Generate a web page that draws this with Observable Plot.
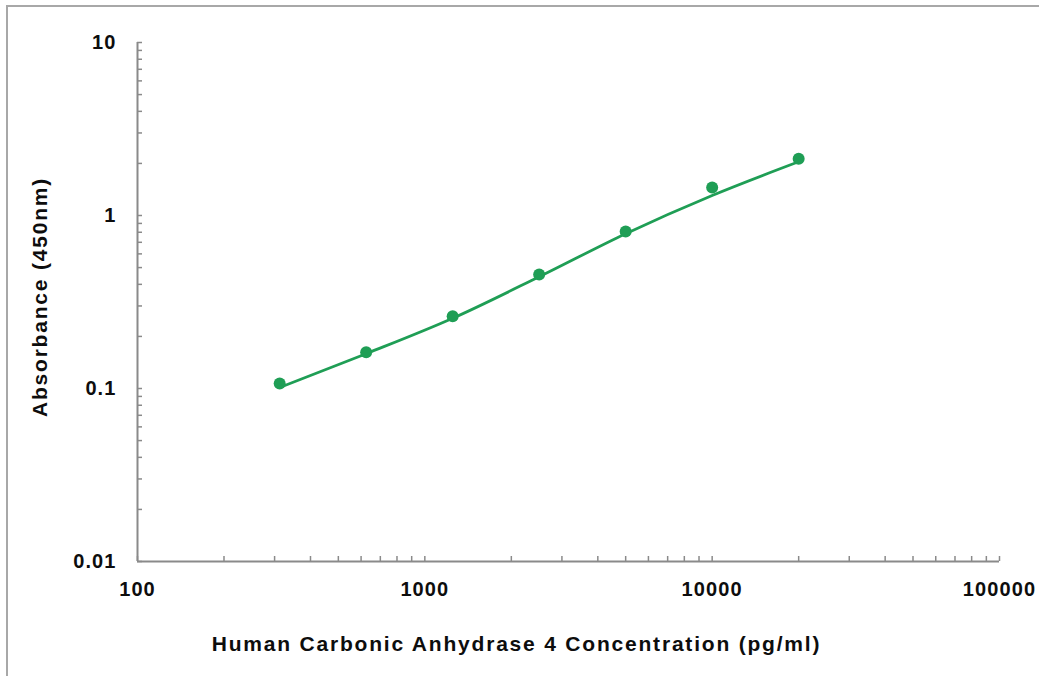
<!DOCTYPE html>
<html>
<head>
<meta charset="utf-8">
<script src="https://cdn.jsdelivr.net/npm/d3@7"></script>
<script src="https://cdn.jsdelivr.net/npm/@observablehq/plot@0.6"></script>
<style>
  html, body { margin: 0; padding: 0; background: #fff; }
  #wrap { position: relative; width: 1039px; height: 676px; overflow: hidden; background: #fff; }
  #border { position: absolute; left: 6px; top: 5px; width: 1100px; height: 800px;
            border-top: 2px solid #a8a8a8; border-left: 2px solid #a8a8a8; pointer-events: none; }
  svg { font-family: "Liberation Sans", Arial, sans-serif; }
</style>
</head>
<body>
<div id="wrap"><div id="border"></div></div>
<script>
// Standard points (pg/ml vs OD450)
const concentration = [312.5, 625, 1250, 2500, 5000, 10000, 20000];
const absorbance = [0.107, 0.162, 0.262, 0.456, 0.808, 1.45, 2.13];

// Fitted curve
const fitConcentration = [312.5, 625, 1250, 2500, 5000, 10000, 20000];
const fitAbsorbance = [0.1014, 0.1589, 0.2547, 0.4426, 0.785, 1.306, 2.046];

// Axis ticks and labels
const xTicks = [100, 1000, 10000, 100000];
const xTickLabels = ["100", "1000", "10000", "100000"];
const yTicks = [0.01, 0.1, 1, 10];
const yTickLabels = ["0.01", "0.1", "1", "10"];
const minorMultipliers = [1, 2, 3, 4, 5, 6, 7, 8, 9];

const xLabel = "Human Carbonic Anhydrase 4 Concentration (pg/ml)";
const yLabel = "Absorbance (450nm)";

const points = concentration.map((c, i) => ({c, a: absorbance[i]}));
const fit = fitConcentration.map((c, i) => ({c, a: fitAbsorbance[i]}));
const xMinor = xTicks.slice(0, -1).flatMap(d => minorMultipliers.map(m => d * m)).concat([xTicks[xTicks.length - 1]]);
const yMinor = yTicks.slice(0, -1).flatMap(d => minorMultipliers.map(m => d * m)).concat([yTicks[yTicks.length - 1]]);

const green = "#1f9e55";
const axisGray = "#8a8a8a";
const textColor = "#0d0d0d";

const W = 1039, H = 676;
const mL = 137, mR = 40, mT = 42, mB = 115;
const frameW = W - mL - mR, frameH = H - mT - mB;

const chart = Plot.plot({
  width: W,
  height: H,
  marginLeft: mL,
  marginRight: mR,
  marginTop: mT,
  marginBottom: mB,
  style: {background: "transparent", fontFamily: "Liberation Sans, Arial, sans-serif", overflow: "visible"},
  x: {type: "log", domain: [100, 100000], axis: null},
  y: {type: "log", domain: [0.01, 10], axis: null},
  marks: [
    // inward minor ticks
    Plot.ruleY(yMinor, {y: d => d, insetRight: frameW - 5, stroke: axisGray, strokeWidth: 1.5}),
    Plot.ruleX(xMinor, {x: d => d, insetTop: frameH - 5, stroke: axisGray, strokeWidth: 1.5}),
    // axis lines
    Plot.ruleX([100], {stroke: axisGray, strokeWidth: 2}),
    Plot.ruleY([0.01], {stroke: axisGray, strokeWidth: 2}),
    // tick labels
    Plot.text(xTicks, {x: d => d, text: (d, i) => xTickLabels[i], frameAnchor: "bottom", dy: 34,
      fontSize: 20, fontWeight: "bold", fill: textColor}),
    Plot.text(yTicks, {y: d => d, text: (d, i) => yTickLabels[i], frameAnchor: "left", dx: -21,
      textAnchor: "end", fontSize: 20, fontWeight: "bold", fill: textColor}),
    // fitted curve and points
    Plot.line(fit, {x: "c", y: "a", stroke: green, strokeWidth: 2.8, curve: "monotone-x"}),
    Plot.dot(points, {x: "c", y: "a", r: 6, fill: green, stroke: "none"}),
    // axis titles
    Plot.text([xLabel], {text: d => d, frameAnchor: "bottom", dx: -52, dy: 89,
      fontSize: 21, fontWeight: "bold", fill: textColor}),
    Plot.text([yLabel], {text: d => d, frameAnchor: "left", textAnchor: "middle", rotate: -90, dx: -97, dy: -5,
      fontSize: 21, fontWeight: "bold", fill: textColor})
  ]
});
document.getElementById("wrap").prepend(chart);

// widen glyph spacing to match the stretched look of the original
d3.select(chart).selectAll("text").each(function() {
  const t = this.textContent;
  if (t === xLabel || t === yLabel) d3.select(this).attr("letter-spacing", "1.8px");
  else if (xTickLabels.includes(t) || yTickLabels.includes(t)) d3.select(this).attr("letter-spacing", "1.1px");
});
</script>
</body>
</html>
